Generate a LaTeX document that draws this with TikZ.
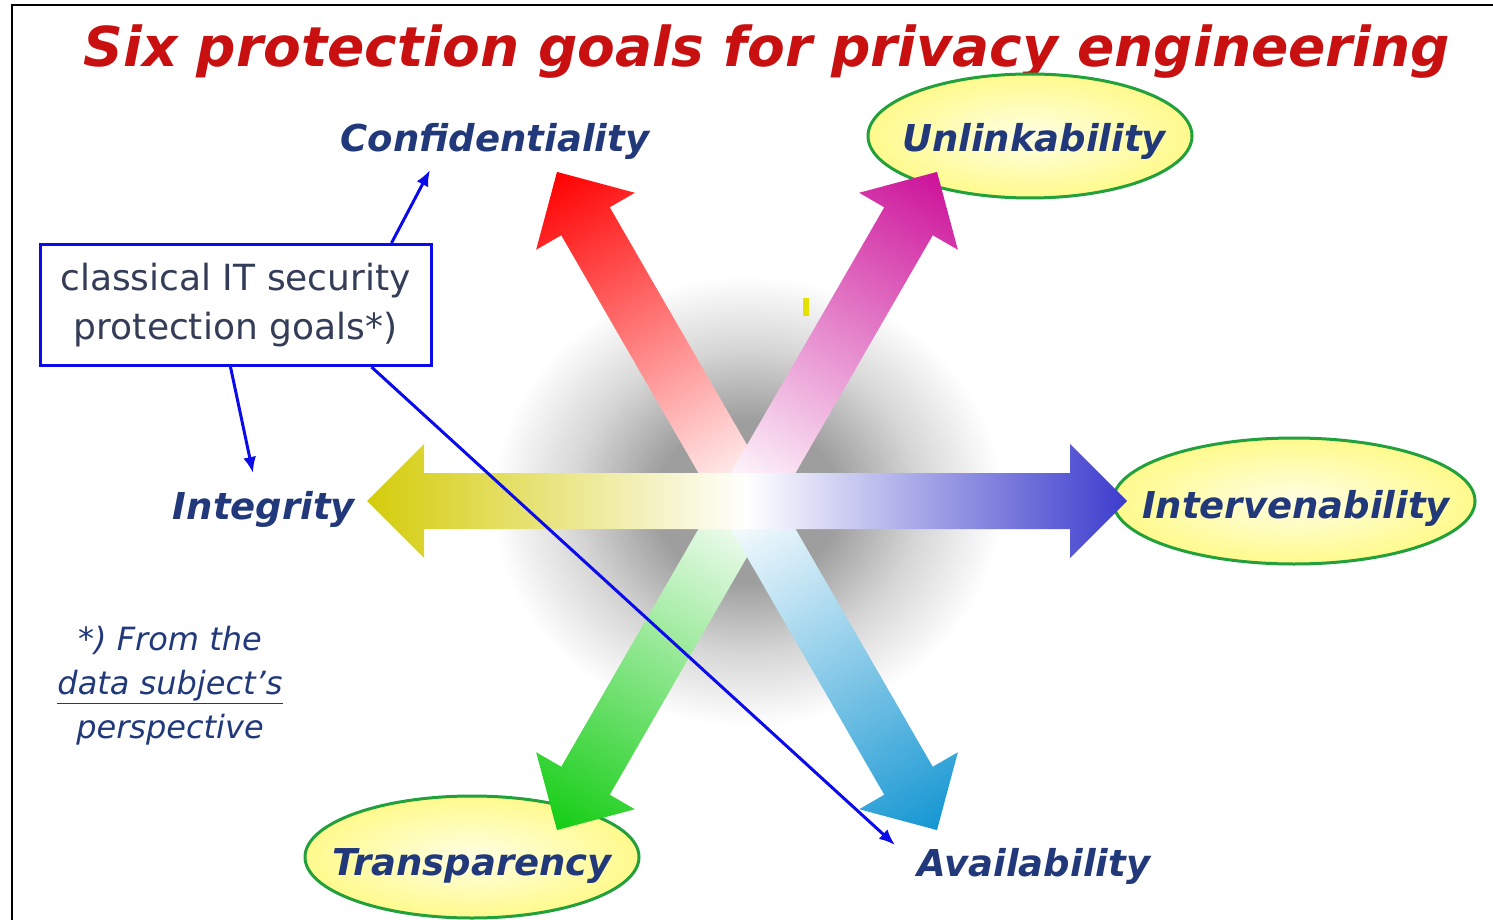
\documentclass[tikz,border=0pt]{standalone}
\usepackage{fontspec}
\setmainfont{DejaVu Sans}
\usepackage{xcolor}
\usepackage{tikz}
\usetikzlibrary{arrows.meta, positioning}

\definecolor{titlered}{RGB}{200,16,16}
\definecolor{goalblue}{RGB}{33,56,122}
\definecolor{boxtext}{RGB}{52,60,88}
\definecolor{linkblue}{RGB}{10,10,235}
\definecolor{ringgreen}{RGB}{34,160,60}
\definecolor{ringedge}{RGB}{255,250,140}
\definecolor{ringcore}{RGB}{255,255,228}
\definecolor{markyellow}{RGB}{228,225,0}
\definecolor{arrRed}{RGB}{255,0,0}
\definecolor{arrMagenta}{RGB}{204,17,153}
\definecolor{arrBlue}{RGB}{60,60,205}
\definecolor{arrYellow}{RGB}{212,204,10}
\definecolor{arrGreen}{RGB}{20,205,20}
\definecolor{arrCyan}{RGB}{20,150,210}

% soft grey disc behind the star, and the pale fill of the rings
\pgfdeclareradialshading{halo}{\pgfpointorigin}{color(0bp)=(black!38); color(9bp)=(black!38); color(17bp)=(black!16); color(25bp)=(white); color(50bp)=(white)}
\pgfdeclareradialshading{ringfill}{\pgfpointorigin}{color(0bp)=(ringcore); color(25bp)=(ringedge); color(50bp)=(ringedge)}

\begin{document}
\begin{tikzpicture}[
		x=1pt, y=-1pt,
		goal/.style={font=\fontsize{37}{40}\selectfont\bfseries\itshape, text=goalblue, inner sep=0pt, anchor=base},
		ring/.style={draw=ringgreen, line width=3pt, shading=ringfill},
		beam/.style={left color=white, right color=#1},
		link/.style={draw=linkblue, line width=3pt, -{Latex[length=16pt, width=13pt]}}
		]
		
		\useasboundingbox (0,0) rectangle (1493,920);
		\draw[line width=2.5pt] (12,920) -- (12,5) -- (1493,5);
		
		% Title
		\node[font=\fontsize{55}{60}\selectfont\bfseries\itshape, text=titlered, anchor=base] (title) at (767,67) {Six protection goals for privacy engineering};
		
		% Grey halo
		\coordinate (hub) at (747,501);
		\shade[shading=halo] (hub) ellipse [x radius=255, y radius=225];
		
		% Rings of the privacy goals
		\shade[ring] (1030,136) ellipse [x radius=162, y radius=62];
		\shade[ring] (1294,501) ellipse [x radius=181, y radius=63];
		\shade[ring] (472,857) ellipse [x radius=167, y radius=61];
		
		% Six arrows out of the hub
		\foreach \ang/\col in {120/arrRed, 60/arrMagenta, 240/arrGreen, 300/arrCyan, 180/arrYellow, 0/arrBlue}
		\shade[beam=\col, transform canvas={shift={(hub)}, rotate=\ang}]
		(0,-28) -- (323,-28) -- (323,-57) -- (380,0) -- (323,57) -- (323,28) -- (0,28) -- cycle;
		
		\fill[markyellow] (803,298) rectangle (809,316);
		
		% Goals
		\node[goal] (conf) at (495,152) {Confidentiality};
		\node[goal] (unlink) at (1034,152) {Unlinkability};
		\node[goal] (integ) at (264,519) {Integrity};
		\node[goal] (interv) at (1296,518) {Intervenability};
		\node[goal] (transp) at (472,875) {Transparency};
		\node[goal] (avail) at (1034,876) {Availability};
		
		% Classical goals box
		\node[draw=linkblue, line width=3pt, fill=white, text=boxtext, minimum width=391pt, minimum height=121pt, align=center, font=\fontsize{36}{49}\selectfont] (classic) at (235.5,305) {classical IT security\\protection goals*)};
		
		\node[font=\fontsize{32}{44}\selectfont\itshape, text=goalblue, align=center] (note) at (170,686) {*) From the\\\underline{data subject’s}\\perspective};
		
		% Pointers from the box
		\coordinate (confTip) at (430,170);
		\coordinate (integTip) at (253,473);
		\coordinate (availTip) at (895,845);
		\draw[link] ([xshift=-41pt]classic.north east) -- (confTip);
		\draw[link] ([xshift=-5pt]classic.south) -- (integTip);
		\draw[link] ([xshift=-61pt]classic.south east) -- (availTip);
		
	\end{tikzpicture}
\end{document}
